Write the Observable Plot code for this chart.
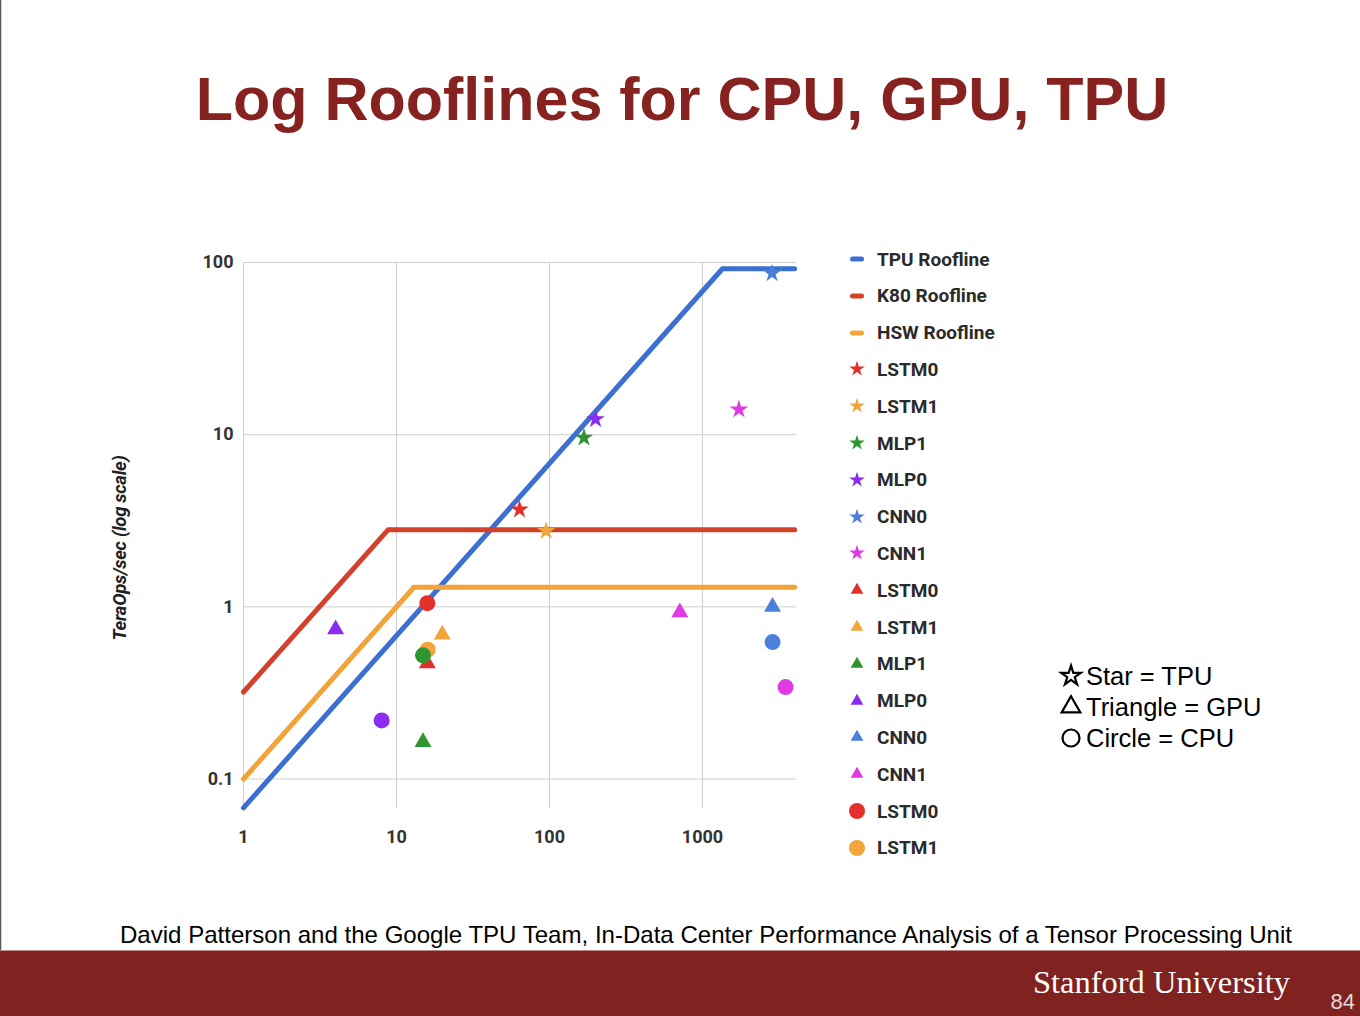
<!DOCTYPE html>
<html>
<head>
<meta charset="utf-8">
<script src="https://cdn.jsdelivr.net/npm/d3@7"></script>
<script src="https://cdn.jsdelivr.net/npm/@observablehq/plot@0.6"></script>
<style>
  html, body { margin: 0; padding: 0; background: #fff; }
  #page { position: relative; width: 1360px; height: 1016px; overflow: hidden; background: #fff; }
  #chart { position: absolute; left: 100px; top: 230px; }
  .leg { position: absolute; left: 846px; height: 22px; display: flex; align-items: center;
         font-family: Roboto, sans-serif; font-weight: bold; font-size: 19px; color: #2a2a2a; white-space: nowrap; }
  .leg svg { width: 22px; height: 22px; margin-right: 9px; }
  #ylabel { position: absolute; left: 120px; top: 548px; transform: translate(-50%, -50%) rotate(-90deg);
            font-family: Roboto, sans-serif; font-weight: bold; font-style: italic; font-size: 18.5px; color: #222; white-space: nowrap; letter-spacing: -0.3px; }
  #overlay { position: absolute; left: 0; top: 0; }
</style>
</head>
<body>
<div id="page">
  <div id="chart"></div>
  <div id="ylabel">TeraOps/sec (log scale)</div>
  <div id="legend"></div>
  <svg id="overlay" width="1360" height="1016"></svg>
</div>
<script>
// ---------------- data ----------------
const workloads = ["LSTM0", "LSTM1", "MLP1", "MLP0", "CNN0", "CNN1"];
const workloadColors = ["#e3302c", "#f2a53c", "#2e962f", "#8a2df0", "#4a80dc", "#e03ae4"];

// TPU (stars)
const tpuX = [63.7, 95, 168, 200, 2850, 1730];
const tpuY = [3.67, 2.76, 9.6, 12.3, 86.5, 14.0];
// GPU / K80 (triangles)
const gpuX = [15.9, 19.9, 14.9, 4.0, 2870, 711];
const gpuY = [0.47, 0.69, 0.164, 0.74, 1.0, 0.93];
// CPU / Haswell (circles)
const cpuX = [15.9, 16.0, 14.9, 8.0, 2870, 3490];
const cpuY = [1.05, 0.564, 0.523, 0.219, 0.624, 0.342];

// Rooflines (vertices)
const rooflineNames = ["TPU Roofline", "K80 Roofline", "HSW Roofline"];
const rooflineColors = ["#3c6fd2", "#d3412b", "#f2a33a"];
const rooflineX = [[1, 1350, 4000], [1, 8.8, 4000], [1, 13, 4000]];
const rooflineY = [[0.068, 92, 92], [0.32, 2.8, 2.8], [0.1, 1.3, 1.3]];

const xTicks = [1, 10, 100, 1000];
const yTicks = [0.1, 1, 10, 100];

// ---------------- tables ----------------
const rooflineRows = rooflineNames.flatMap((name, i) =>
  rooflineX[i].map((x, j) => ({ name, x, y: rooflineY[i][j], color: rooflineColors[i] })));
const mk = (xs, ys) => workloads.map((w, i) => ({ name: w, x: xs[i], y: ys[i], color: workloadColors[i] }));
const tpuRows = mk(tpuX, tpuY);
const gpuRows = mk(gpuX, gpuY);
const cpuRows = mk(cpuX, cpuY);

// ---------------- chart ----------------
const chart = Plot.plot({
  width: 720,
  height: 640,
  marginLeft: 143,
  marginRight: 24,
  marginTop: 32,
  marginBottom: 62,
  x: { type: "log", domain: [1, 4115] },
  y: { type: "log", domain: [0.0674, 100] },
  color: { type: "identity" },
  style: { fontFamily: "Roboto, sans-serif", fontSize: "18px", fontWeight: "bold", color: "#333", background: "transparent", overflow: "visible" },
  marks: [
    Plot.gridX(xTicks, { stroke: "#cfcfcf", strokeOpacity: 1 }),
    Plot.gridY(yTicks, { stroke: "#cfcfcf", strokeOpacity: 1 }),
    Plot.axisX(xTicks, { tickSize: 0, tickPadding: 22, tickFormat: d => String(d), label: null }),
    Plot.axisY(yTicks, { tickSize: 0, tickPadding: 10, tickFormat: d => String(d), label: null }),
    Plot.line(rooflineRows, { x: "x", y: "y", z: "name", stroke: "color", strokeWidth: 5 }),
    Plot.dot(gpuRows, { x: "x", y: "y", fill: "color", symbol: "triangle", r: 6.3, stroke: null }),
    Plot.dot(cpuRows, { x: "x", y: "y", fill: "color", symbol: "circle", r: 8, stroke: null }),
    Plot.dot(tpuRows, { x: "x", y: "y", fill: "color", symbol: "star", r: 5.8, stroke: null })
  ]
});
document.getElementById("chart").appendChild(chart);

// ---------------- series legend ----------------
const legendItems = [
  ...rooflineNames.map((n, i) => ({ label: n, kind: "line", color: rooflineColors[i] })),
  ...workloads.map((w, i) => ({ label: w, kind: "star", color: workloadColors[i] })),
  ...workloads.map((w, i) => ({ label: w, kind: "triangle", color: workloadColors[i] })),
  ...workloads.slice(0, 2).map((w, i) => ({ label: w, kind: "circle", color: workloadColors[i] }))
];
const legend = d3.select("#legend");
legendItems.forEach((it, i) => {
  const row = legend.append("div").attr("class", "leg").style("top", (259 + i * 36.8 - 11) + "px");
  const s = row.append("svg").attr("viewBox", "-11 -11 22 22");
  if (it.kind === "line") {
    s.append("rect").attr("x", -7).attr("y", -2.5).attr("width", 14).attr("height", 5).attr("rx", 2.5).attr("fill", it.color);
  } else if (it.kind === "circle") {
    s.append("circle").attr("r", 8).attr("fill", it.color);
  } else {
    const type = it.kind === "star" ? d3.symbolStar : d3.symbolTriangle;
    const size = it.kind === "star" ? 75 : 70;
    s.append("path").attr("d", d3.symbol(type, size)()).attr("fill", it.color);
  }
  row.append("span").text(it.label);
});

// ---------------- slide decorations ----------------
const ov = d3.select("#overlay");
ov.append("line").attr("x1", 0.5).attr("x2", 0.5).attr("y1", 0).attr("y2", 951).attr("stroke", "#555").attr("stroke-width", 1.5);
ov.append("text").attr("x", 682).attr("y", 120).attr("text-anchor", "middle")
  .attr("font-family", "'Liberation Sans', Arial, sans-serif").attr("font-weight", "bold").attr("font-size", 61)
  .attr("fill", "#862320").text("Log Rooflines for CPU, GPU, TPU");

const shapeLegend = [
  { kind: "star", label: "Star = TPU" },
  { kind: "triangle", label: "Triangle = GPU" },
  { kind: "circle", label: "Circle = CPU" }
];
shapeLegend.forEach((d, i) => {
  const cy = 676 + i * 31;
  const g = ov.append("g").attr("transform", `translate(1071,${cy})`);
  if (d.kind === "circle") g.append("circle").attr("r", 8.5).attr("fill", "none").attr("stroke", "#000").attr("stroke-width", 2.2);
  else g.append("path").attr("d", d3.symbol(d.kind === "star" ? d3.symbolStar : d3.symbolTriangle, d.kind === "star" ? 120 : 150)())
        .attr("fill", "none").attr("stroke", "#000").attr("stroke-width", 2.2).attr("stroke-linejoin", "miter");
  ov.append("text").attr("x", 1086).attr("y", cy + 9).attr("font-family", "'Liberation Sans', Arial, sans-serif")
    .attr("font-size", 25.5).attr("fill", "#000").text(d.label);
});

ov.append("text").attr("x", 120).attr("y", 943).attr("textLength", 1172).attr("lengthAdjust", "spacingAndGlyphs")
  .attr("font-family", "'Liberation Sans', Arial, sans-serif").attr("font-size", 24).attr("fill", "#000")
  .text("David Patterson and the Google TPU Team, In-Data Center Performance Analysis of a Tensor Processing Unit");

ov.append("rect").attr("x", 0).attr("y", 951).attr("width", 1360).attr("height", 65).attr("fill", "#80221f");
ov.append("line").attr("x1", 0).attr("x2", 1360).attr("y1", 950.5).attr("y2", 950.5).attr("stroke", "#b88").attr("stroke-width", 1);
ov.append("text").attr("x", 1290).attr("y", 993).attr("text-anchor", "end").attr("textLength", 257).attr("lengthAdjust", "spacingAndGlyphs")
  .attr("font-family", "'Liberation Serif', 'Times New Roman', serif").attr("font-size", 32).attr("fill", "#fff")
  .text("Stanford University");
ov.append("text").attr("x", 1355).attr("y", 1009).attr("text-anchor", "end")
  .attr("font-family", "'Liberation Sans', Arial, sans-serif").attr("font-size", 22).attr("fill", "#ddd")
  .text("84");
</script>
</body>
</html>
